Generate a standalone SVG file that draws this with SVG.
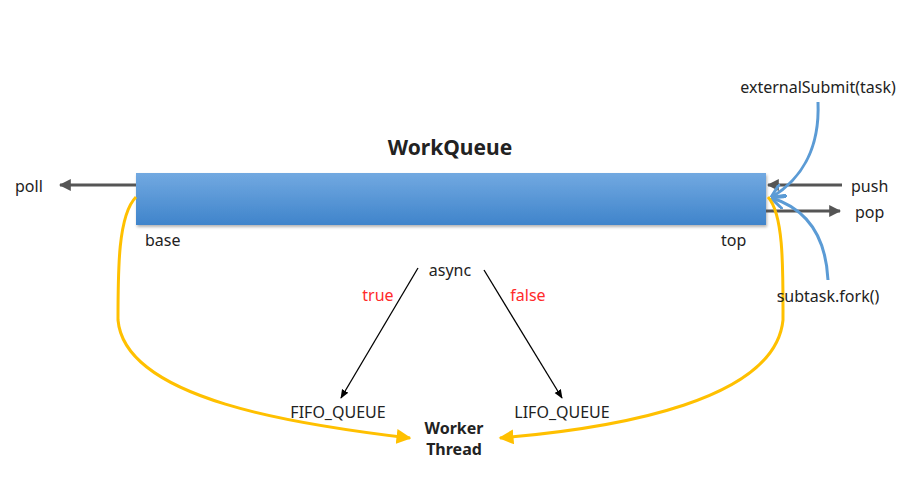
<svg xmlns="http://www.w3.org/2000/svg" width="905" height="480" viewBox="0 0 905 480">
<defs>
<linearGradient id="bar" x1="0" y1="0" x2="0" y2="1">
<stop offset="0" stop-color="#72a9e1"/>
<stop offset="1" stop-color="#3f84cb"/>
</linearGradient>
<filter id="sh" x="-5%" y="-20%" width="110%" height="150%">
<feDropShadow dx="1" dy="2" stdDeviation="1.5" flood-color="#000" flood-opacity="0.3"/>
</filter>
<marker id="ag" viewBox="0 0 10 10" refX="9" refY="5" markerWidth="4" markerHeight="4" orient="auto"><path d="M0,0 L10,5 L0,10 z" fill="#555"/></marker>
<marker id="ab" viewBox="0 0 10 10" refX="9" refY="5" markerWidth="5" markerHeight="5" orient="auto"><path d="M0,0 L10,5 L0,10" fill="none" stroke="#5b9bd5" stroke-width="2"/></marker>
<marker id="ay" viewBox="0 0 10 10" refX="9" refY="5" markerWidth="5" markerHeight="5" orient="auto"><path d="M0,0 L10,5 L0,10 z" fill="#ffc000"/></marker>
<marker id="ak" viewBox="0 0 10 10" refX="9" refY="5" markerWidth="7" markerHeight="7" orient="auto"><path d="M0,1 L10,5 L0,9 z" fill="#000"/></marker>
</defs>
<style>
text{font-family:"Noto Sans","Liberation Sans",sans-serif;font-size:16px;fill:#222}
.c{text-anchor:middle}
.b{font-weight:bold}
.r{fill:#ff2b2b}
.g{stroke:#555;stroke-width:3;fill:none}
.bl{stroke:#5b9bd5;stroke-width:3;fill:none}
.y{stroke:#ffc000;stroke-width:3;fill:none}
.k{stroke:#000;stroke-width:1.3;fill:none}
</style>
<rect width="905" height="480" fill="#fff"/>
<g id="workqueue">
<text class="c b" x="450" y="155" style="font-size:21px">WorkQueue</text>
<rect x="136" y="173" width="630" height="52" fill="url(#bar)" filter="url(#sh)"/>
<text x="145" y="246">base</text>
<text x="721" y="246">top</text>
</g>
<g id="connectors">
<path class="g" d="M136,185 L60,185" marker-end="url(#ag)"/>
<path class="g" d="M842,185 L768,185" marker-end="url(#ag)"/>
<path class="g" d="M766,211 L840,211" marker-end="url(#ag)"/>
<path class="bl" d="M818,102 C820,150 800,180 772,197" marker-end="url(#ab)"/>
<path class="bl" d="M828,280 C826,240 810,210 772,198" marker-end="url(#ab)"/>
<path class="y" d="M136,197 C118,215 118,270 118,320 C125,400 300,425 410,438" marker-end="url(#ay)"/>
<path class="y" d="M768,197 C784,215 783,270 783,320 C775,400 620,428 500,438" marker-end="url(#ay)"/>
<path class="k" d="M418,268 L341,398" marker-end="url(#ak)"/>
<path class="k" d="M484,270 L562,398" marker-end="url(#ak)"/>
</g>
<g id="labels">
<text x="15" y="192">poll</text>
<text x="851" y="192">push</text>
<text x="855" y="218">pop</text>
<text class="c" x="818" y="93">externalSubmit(task)</text>
<text class="c" x="828" y="302">subtask.fork()</text>
<text class="c" x="450" y="276">async</text>
<text class="c r" x="378" y="301">true</text>
<text class="c r" x="528" y="301">false</text>
<text class="c" x="338" y="418">FIFO_QUEUE</text>
<text class="c" x="562" y="418">LIFO_QUEUE</text>
<text class="c b" x="454" y="434">Worker</text>
<text class="c b" x="454" y="455">Thread</text>
</g>
</svg>
